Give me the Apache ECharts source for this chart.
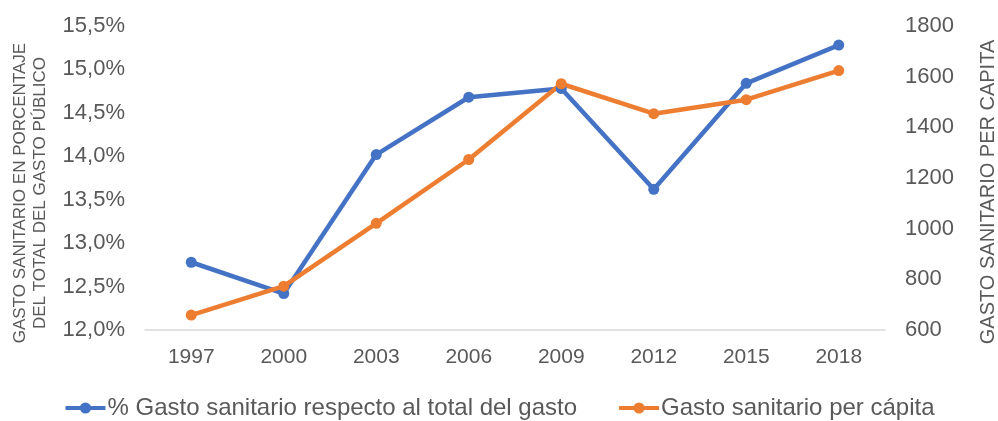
<!DOCTYPE html>
<html>
<head>
<meta charset="utf-8">
<script src="https://cdn.jsdelivr.net/npm/echarts@6/dist/echarts.min.js"></script>
<style>
  html, body { margin: 0; padding: 0; background: #fff; }
  #chart { width: 998px; height: 421px; }
</style>
</head>
<body>
<div id="chart"></div>
<script>
// años
var years = ['1997', '2000', '2003', '2006', '2009', '2012', '2015', '2018'];
// % gasto sanitario respecto al total del gasto público
var pctGasto = [12.78, 12.42, 14.02, 14.68, 14.78, 13.62, 14.84, 15.28];
// gasto sanitario per cápita
var perCapita = [659, 773, 1021, 1273, 1572, 1454, 1509, 1624];

var nameBlue = '% Gasto sanitario respecto al total del gasto';
var nameOrange = 'Gasto sanitario per cápita';

var chart = echarts.init(document.getElementById('chart'));
var font = 'Liberation Sans, Arial, sans-serif';

var option = {
	animation: false,
	textStyle: { fontFamily: font },
	grid: { left: 145, right: 113, top: 26, bottom: 91, outerBoundsMode: 'none', containLabel: false },
	legend: {
		top: 391,
		left: 'center',
		itemWidth: 40,
		itemHeight: 14,
		itemGap: 40,
		lineStyle: { width: 4 },
		textStyle: { fontSize: 24, color: '#595959', fontFamily: font, padding: [0, 0, 0, -3] },
		data: [nameBlue, nameOrange]
	},
	xAxis: {
		type: 'category',
		data: years,
		boundaryGap: true,
		axisLine: { lineStyle: { color: '#d9d9d9', width: 1.5 } },
		axisTick: { show: false },
		axisLabel: { color: '#595959', fontSize: 21, margin: 17 }
	},
	yAxis: [
		{
			type: 'value',
			min: 12,
			max: 15.5,
			interval: 0.5,
			position: 'left',
			name: 'GASTO SANITARIO EN PORCENTAJE\nDEL TOTAL DEL GASTO PÚBLICO',
			nameLocation: 'middle',
			nameRotate: 90,
			nameGap: 95,
			nameTextStyle: { fontSize: 17, color: '#595959', lineHeight: 20, padding: [0, 30, 0, 0] },
			axisLine: { show: false },
			axisTick: { show: false },
			splitLine: { show: false },
			axisLabel: {
				color: '#595959', fontSize: 22, margin: 20,
				formatter: function (v) { return v.toFixed(1).replace('.', ',') + '%'; }
			}
		},
		{
			type: 'value',
			min: 600,
			max: 1800,
			interval: 200,
			position: 'right',
			name: 'GASTO SANITARIO PER CAPITA',
			nameLocation: 'middle',
			nameRotate: 90,
			nameGap: 93,
			nameTextStyle: { fontSize: 20, color: '#595959', padding: [0, 28, 0, 0] },
			axisLine: { show: false },
			axisTick: { show: false },
			splitLine: { show: false },
			axisLabel: {
				color: '#595959', fontSize: 22, margin: 20,
				formatter: function (v) { return String(v); }
			}
		}
	],
	series: [
		{
			name: nameBlue,
			type: 'line',
			yAxisIndex: 0,
			data: pctGasto,
			symbol: 'circle',
			symbolSize: 11,
			itemStyle: { color: '#4472c4' },
			lineStyle: { color: '#4472c4', width: 4.5 }
		},
		{
			name: nameOrange,
			type: 'line',
			yAxisIndex: 1,
			data: perCapita,
			symbol: 'circle',
			symbolSize: 11,
			itemStyle: { color: '#ed7d31' },
			lineStyle: { color: '#ed7d31', width: 4.5 }
		}
	]
};

chart.setOption(option);
</script>
</body>
</html>
